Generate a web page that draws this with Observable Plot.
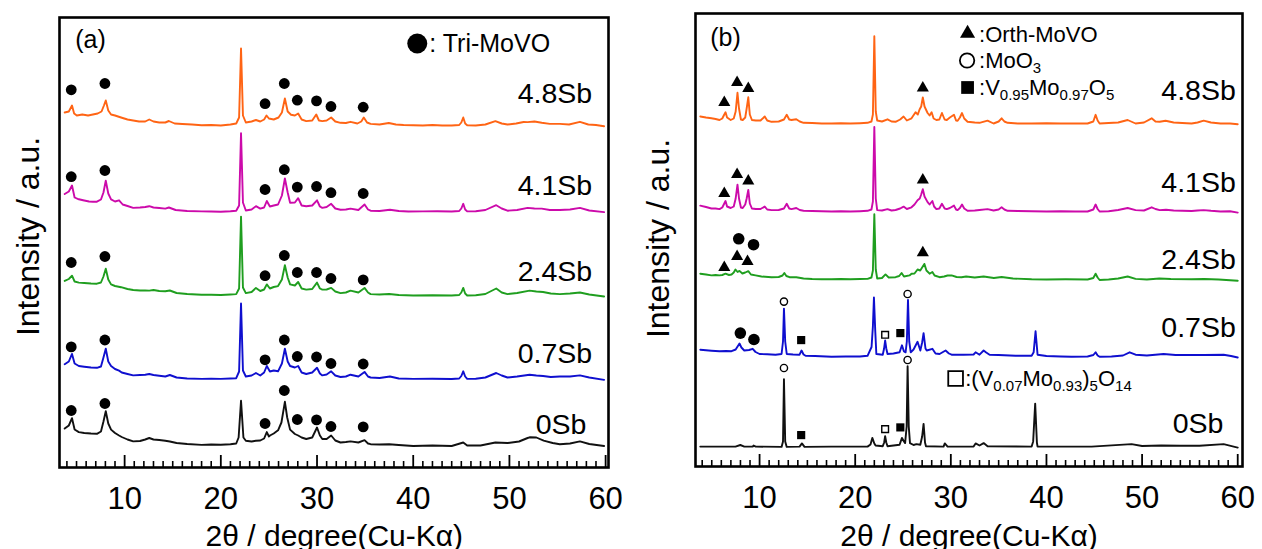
<!DOCTYPE html>
<html><head><meta charset="utf-8">
<script src="https://cdn.jsdelivr.net/npm/d3@7"></script>
<script src="https://cdn.jsdelivr.net/npm/@observablehq/plot@0.6"></script>
<style>
body{margin:0;background:#fff;}
#wrap{display:flex;width:1262px;height:549px;}
#wrap > div{width:631px;height:549px;}
svg{display:block;}
</style></head><body><div id="wrap"><div id="pa"></div><div id="pb"></div></div>
<script>
// ---------- labels ----------
const sampleNames = ["4.8Sb", "4.1Sb", "2.4Sb", "0.7Sb", "0Sb"];
const seriesColors = ["#ff6414", "#cc0aaa", "#1f9e1f", "#0f0fcf", "#111111"];
const xTitle = "2θ / degree(Cu-Kα)";
const yTitle = "Intensity / a.u.";
const majorTicks = [10, 20, 30, 40, 50, 60];

// ---------- panel (a) : [2theta, intensity (stacked, a.u.)] ----------
const a_48Sb = [[3.77,355],[4.2,356],[4.53,362],[4.75,354],[5.03,352],[5.6,353],[6.2,352],[6.7,353],[7.2,354],[7.6,356],[7.85,362],[8.04,367],[8.3,357],[8.59,353],[9.0,352],[9.63,350],[10.3,348],[10.89,347],[11.5,346],[12.14,346],[12.56,348],[13.0,346],[13.6,345],[14.23,345],[14.6,346.5],[15.2,344],[16.0,343.5],[17.0,343],[18.0,342.3],[19.0,342.5],[20.0,342],[21.0,343],[21.6,344],[21.9,350],[22.1,419],[22.3,352],[22.6,345],[23.2,346],[23.65,347.5],[24.1,346],[24.5,348],[24.75,352],[25.0,349],[25.5,348],[26.0,350],[26.35,355],[26.66,369],[26.95,356],[27.3,352.7],[27.7,352],[28.04,354],[28.4,348],[28.88,346.4],[29.5,347],[29.92,353],[30.2,347],[30.55,346.4],[31.0,347],[31.47,350],[31.9,346],[32.44,344.7],[33.0,344.5],[33.48,345.7],[34.2,344],[34.6,346],[34.86,350],[35.2,345],[35.57,343.6],[36.5,343],[37.46,344.5],[38.2,343],[39.0,342.5],[40,342.3],[41,342],[42,342.5],[43,342],[44,342],[44.78,342.5],[45.0,345],[45.2,350],[45.4,344],[45.61,342.3],[46.5,342],[47.5,343],[48.54,346.4],[49.2,344],[49.8,343],[50.7,344],[51.47,345.5],[51.89,345.4],[52.6,346],[53.36,344.7],[54.2,343.6],[55.24,343.6],[56.2,343],[57.33,345.7],[58.2,343],[59.0,342.5],[59.84,341.2]];
const a_41Sb = [[3.77,273.5],[4.2,276],[4.53,282],[4.8,270],[5.24,268.2],[5.8,267],[6.3,266],[6.7,265.8],[7.12,265.8],[7.54,268],[7.8,275],[8.04,286.7],[8.3,274],[8.59,268.2],[9.0,266],[9.42,267.2],[9.8,263],[10.3,261.5],[10.89,259.6],[11.6,260],[12.14,260.5],[12.56,261.3],[13.0,260],[13.6,259.5],[14.23,258.9],[14.6,260],[15.3,257.5],[16.5,256.5],[18.0,256.1],[19.0,256],[20.0,255.8],[21.0,256.3],[21.6,256.8],[21.9,262],[22.1,334.3],[22.3,265],[22.6,257],[23.2,258],[23.65,261.3],[24.1,258.9],[24.5,260],[24.78,266.5],[25.1,261],[25.5,262],[25.95,263],[26.35,272],[26.66,289],[26.95,275],[27.2,264.8],[27.7,265],[28.04,269.3],[28.4,262],[28.88,261.3],[29.5,262],[30.0,267.2],[30.3,261],[30.55,259.6],[31.0,260.5],[31.47,263.7],[31.9,259],[32.44,257.8],[33.0,258],[33.48,258.9],[34.3,257.5],[34.94,263],[35.3,258],[35.57,256.8],[36.5,256.5],[37.58,257.8],[38.5,256.5],[39.5,256],[41,256.1],[42.5,256.3],[44,256],[44.78,256.5],[45.0,259],[45.2,263.7],[45.4,258],[45.61,256.1],[46.5,256.3],[47.5,257.5],[48.63,262.3],[49.2,259],[49.8,256.8],[50.8,257.5],[51.89,259.6],[52.6,259],[53.36,258.9],[54.2,257.5],[55.24,257.5],[56.3,258],[57.33,259.6],[58.3,257],[59.84,255.4]];
const a_24Sb = [[3.77,186.6],[4.2,188.5],[4.53,191.8],[4.8,186],[5.24,184.9],[5.8,184.5],[6.5,184],[7.12,183.8],[7.54,185],[7.8,191],[8.04,198.8],[8.3,188],[8.59,183.1],[9.0,181.5],[9.63,180.3],[10.3,178.5],[10.89,177.5],[11.6,177],[12.14,177],[12.56,176.9],[13.0,177.5],[13.6,176.5],[14.23,176.2],[14.7,177],[15.4,174.5],[16.5,173.5],[18.0,172.7],[19.0,172.8],[20.0,172.5],[21.0,173],[21.6,173.4],[21.9,179],[22.1,250.9],[22.3,180],[22.6,174.4],[23.2,175.5],[23.65,179.6],[24.1,176.5],[24.5,178],[24.78,183.1],[25.1,179],[25.5,180.5],[25.95,181.4],[26.35,188],[26.66,202.2],[26.95,190],[27.2,183.1],[27.7,182],[28.04,185.5],[28.4,179],[28.88,177.9],[29.5,178.5],[30.0,184.9],[30.3,179],[30.55,177.9],[31.0,178],[31.47,179.6],[31.9,176],[32.44,174.4],[33.0,175],[33.48,176.9],[34.3,175],[34.94,179.6],[35.3,175],[35.57,173.4],[36.5,173],[37.5,173.5],[38.5,172.5],[40,172],[42,172.3],[44,172],[44.78,172.5],[45.0,175],[45.2,179.6],[45.4,174],[45.61,172],[46.5,172.3],[47.5,173.5],[48.63,179],[49.2,175],[49.8,173.4],[50.8,174.5],[52.1,176.9],[52.8,176],[53.5,175.5],[54.3,174],[55.24,173.4],[56.3,174],[57.33,175],[58.3,173],[59.84,171]];
const a_07Sb = [[3.77,103.2],[4.2,106],[4.53,113.6],[4.8,104],[5.24,101.5],[5.8,100.8],[6.5,100],[7.12,99.7],[7.54,101],[7.8,110],[8.04,118.8],[8.3,106],[8.59,101.5],[9.0,98.5],[9.42,96.9],[9.7,95],[10.3,93.5],[10.89,92.1],[11.6,92.5],[12.14,92.8],[12.56,93.5],[13.0,92.5],[13.6,91.8],[14.23,91],[14.7,92.5],[15.4,90],[16.5,89],[18.0,88.6],[19.0,88.8],[20.0,88.6],[21.0,89],[21.6,89.3],[21.9,96],[22.1,164],[22.3,97],[22.6,91],[23.2,92],[23.65,94.5],[24.1,92],[24.5,95],[24.78,101.5],[25.1,96],[25.5,97],[25.95,96.2],[26.35,104],[26.66,118.8],[26.95,106],[27.2,101.5],[27.7,100],[28.04,101.5],[28.4,95],[28.88,93.5],[29.5,95],[30.0,99.7],[30.3,94],[30.55,92.1],[31.0,93],[31.47,96.2],[31.9,92],[32.44,90.5],[33.0,91],[33.48,92.8],[34.3,91],[34.94,95.6],[35.3,91],[35.57,90],[36.5,89.5],[37.58,91],[38.5,89],[40,88.6],[42,88.8],[44,88.5],[44.78,89],[45.0,91.5],[45.2,96.2],[45.4,91],[45.61,88.6],[46.5,88.8],[47.5,90],[48.63,94.5],[49.2,92],[49.8,90],[50.8,91],[52.1,92.8],[52.8,92],[53.5,91.5],[54.3,90.5],[55.24,91],[56.3,91],[57.33,92.1],[58.3,90],[59.84,87.6]];
const a_0Sb = [[3.77,38.9],[4.2,42],[4.53,49.3],[4.8,38],[5.24,35.4],[5.8,34.5],[6.5,34],[7.12,33.7],[7.54,36],[7.8,46],[8.04,56.3],[8.3,44],[8.59,37.9],[9.0,34.5],[9.42,32],[9.7,30.5],[10.3,28],[10.89,26.1],[11.6,26.5],[12.14,28],[12.56,29.5],[13.0,28],[13.6,27.5],[14.23,26.8],[14.7,26],[15.4,24.5],[16.5,23.5],[18.0,22.6],[19.0,23],[20.0,22.8],[21.0,23.3],[21.6,24],[21.85,30],[22.1,66.7],[22.35,30],[22.6,26.8],[23.2,26],[23.65,26.8],[24.1,27],[24.5,29],[24.78,35.4],[25.0,31],[25.11,32],[25.5,34],[25.95,37.2],[26.3,45],[26.66,65.7],[26.9,50],[27.2,37.9],[27.7,33.5],[28.04,32],[28.4,30],[28.88,28.5],[29.5,30],[30.0,40],[30.3,32],[30.55,28.5],[31.0,28.5],[31.47,32],[31.9,27],[32.44,25],[33.0,25.5],[33.48,26.1],[34.3,25],[34.94,27.4],[35.3,24],[35.57,23.3],[36.5,23],[37.5,23.3],[38.5,22.5],[40,21.5],[42,22],[44,21.5],[45.2,25],[45.61,22],[47,22],[48.54,25],[49.8,24.5],[51.0,26],[51.89,29.5],[52.1,30.2],[52.8,30],[53.56,26.8],[54.5,24.5],[55.24,23.3],[56.3,24],[57.33,26.1],[58.3,23.5],[59.84,21.5]];

// Tri-MoVO marker positions (a)
const triMoVO_x = [4.45, 7.95, 24.6, 26.6, 27.95, 29.95, 31.45, 34.8];
const triMoVO_y = [
  [377.7, 384, 363.8, 384, 367.3, 366.6, 361, 360.3],
  [290.8, 297, 278, 297.8, 280.4, 281, 274.8, 274],
  [205, 211, 191.8, 212, 195, 195, 189, 187.6],
  [120.6, 127.5, 107.7, 127.5, 111, 110.5, 104, 103.5],
  [57, 64, 44, 77, 48, 47.6, 41, 40.6]
];
const labelA_x = [58.6, 58.6, 58.6, 58.6, 58.0];
const labelA_y = [373.5, 282, 195.5, 114, 42.4];

// ---------- panel (b) ----------
const b_48Sb = [[3.8,350],[4.4,349],[4.97,348.2],[5.4,347.5],[5.81,346.5],[6.1,348],[6.31,352],[6.44,354.2],[6.6,349],[6.98,346.5],[7.3,348],[7.5,355],[7.69,373.7],[7.85,358],[8.05,347],[8.24,346.5],[8.5,349],[8.65,358],[8.82,369.2],[8.98,352],[9.2,346.5],[9.6,346],[10.1,346],[10.54,350],[10.8,346],[11.25,344.7],[12.0,345],[12.55,347],[12.84,351.7],[13.1,347],[13.34,346.5],[13.84,347.2],[14.2,345],[14.6,343.7],[15.5,343.5],[16.5,343],[17.53,343],[18.5,343.3],[19.5,343],[20.5,343.3],[21.29,343.7],[21.7,345],[21.85,352],[22.0,430.3],[22.15,355],[22.3,346],[22.8,345],[23.38,347.2],[23.8,345],[24.22,344.7],[24.7,347],[25.06,350],[25.4,346],[25.89,348.2],[26.31,354.2],[26.55,352],[26.73,357],[26.9,360],[27.07,369],[27.25,360],[27.57,353.5],[27.78,351],[27.99,354.2],[28.2,348],[28.49,346.5],[28.8,347],[29.07,353.5],[29.35,347],[29.58,346.5],[29.9,349],[30.33,351.7],[30.55,346],[30.71,345.8],[30.95,349],[31.17,353.5],[31.4,348],[31.75,344.7],[32.5,344],[33.0,343.7],[33.84,345.8],[34.47,343],[35.0,345],[35.31,348.2],[35.6,345],[35.94,343.7],[37,343],[38.45,343],[40,343.3],[41.5,343],[43,343],[44.3,343],[44.9,345],[45.14,351.7],[45.35,346],[45.56,343],[46.5,343.5],[47.5,344],[48.49,346.5],[49.32,343],[50.2,344],[51.0,348.2],[51.4,345],[51.84,344.7],[52.46,345.8],[53.3,344],[54.2,343.5],[55.18,343],[55.8,344],[56.44,345.8],[57.2,344],[58.2,343],[59.2,343],[60.0,342.3]];
const b_41Sb = [[3.8,260.9],[4.4,259.5],[4.97,258],[5.4,258],[5.81,257.4],[6.1,259],[6.31,263],[6.44,265.5],[6.6,260],[6.98,258.5],[7.3,260],[7.5,268],[7.69,281.9],[7.85,268],[8.05,259],[8.24,258.5],[8.5,262],[8.65,268],[8.82,276.6],[8.98,263],[9.2,258],[9.6,257.5],[10.1,257.5],[10.54,259.9],[10.8,257],[11.25,256.4],[12.0,256.5],[12.55,258],[12.84,262.7],[13.1,258],[13.34,257.4],[13.84,258.5],[14.2,256.5],[14.6,255.7],[15.5,255.5],[16.5,255.2],[17.53,255],[18.5,255.3],[19.5,255],[20.5,255.3],[21.29,255.7],[21.7,257],[21.85,265],[22.0,339.5],[22.15,268],[22.3,256.4],[22.8,256],[23.38,257.4],[23.8,256],[24.22,256.5],[24.7,258],[25.06,259.9],[25.4,257.5],[25.89,259.2],[26.2,262],[26.52,266.2],[26.75,268],[26.9,272],[27.07,277.3],[27.25,270],[27.57,264.4],[27.78,262],[28.07,265.5],[28.25,260],[28.49,257.4],[28.8,258],[29.07,262.7],[29.35,258],[29.58,257.4],[29.9,258.5],[30.33,260.9],[30.55,257],[30.71,256.4],[30.95,258.5],[31.17,262],[31.4,258],[31.75,255.7],[32.5,256],[33.0,256.5],[33.84,257.4],[34.47,256],[35.0,257],[35.31,259.2],[35.6,257],[35.94,255.7],[37,255.5],[38.45,255.3],[40,255],[41.5,255.2],[43,255],[44.3,255],[44.9,257],[45.14,262],[45.35,257.5],[45.56,255],[46.5,255.3],[47.5,256.5],[48.49,258.5],[49.32,256.4],[50.2,256],[51.0,259.2],[51.4,257.5],[51.84,256.4],[52.5,256.8],[53.3,256],[54.2,255.7],[55.18,255.5],[55.8,256],[56.44,256.4],[57.2,255.7],[58.2,255],[59.2,255.3],[60.0,253.9]];
const b_24Sb = [[3.8,192.8],[4.4,192],[4.97,191.1],[5.4,191.5],[5.81,191.1],[6.1,191.5],[6.44,192.8],[6.8,191.5],[7.07,192],[7.3,194],[7.48,197],[7.7,194.5],[7.9,195.6],[8.2,193],[8.5,194],[8.82,195.3],[9.1,192],[9.58,191.1],[10.2,190],[11.25,189.3],[12.0,189.5],[12.4,191],[12.59,193.5],[12.8,190.5],[13.13,189.3],[13.84,189.3],[14.3,188.5],[14.6,188],[15.5,187.5],[16.5,187.3],[17.53,187.2],[18.5,187.5],[19.5,187.3],[20.5,187.5],[21.29,187.6],[21.7,189],[21.85,196],[22.0,252.2],[22.15,197],[22.3,188],[22.8,188.5],[23.17,192.1],[23.5,189],[24.22,189.3],[24.6,190.5],[24.85,193.5],[25.1,190],[25.68,191.1],[25.89,192.8],[26.2,193],[26.52,197],[26.8,196],[27.0,199],[27.23,202.6],[27.45,196],[27.78,192.8],[28.07,194.5],[28.3,191],[28.82,189.3],[29.3,190],[29.66,191],[30.08,191.1],[30.6,189.5],[31.12,189.3],[31.6,190],[32.5,189],[33.43,190],[34.5,188.5],[35.31,189.5],[36.5,188],[38.45,187.2],[40,187],[42,187.2],[44.3,187],[44.9,188.5],[45.14,192.8],[45.35,189],[45.56,186.5],[46.5,187],[47.5,188],[48.49,190],[49.32,187.6],[50.5,187],[51.8,188],[53,187.5],[55.18,187.2],[56.5,187.5],[58,187],[60.0,185.8]];
const b_07Sb = [[3.8,116.7],[4.4,116.2],[4.97,115.8],[5.81,115.3],[6.5,115.5],[7.07,115.3],[7.5,117],[7.9,123],[8.1,119],[8.4,116],[8.9,116.5],[9.28,117.7],[9.58,114.5],[10.0,112.5],[10.8,112.2],[11.67,111.8],[12.3,112.5],[12.45,125],[12.55,157.9],[12.68,125],[12.84,112.5],[13.5,112],[14.18,111.8],[14.39,116],[14.6,112],[14.81,110.7],[15.8,110.5],[17.53,109.7],[19,110],[20.5,110],[21.29,110.7],[21.71,119.5],[21.85,140],[21.96,169],[22.1,135],[22.21,112.5],[22.88,111.8],[23.02,118],[23.13,126],[23.25,118],[23.38,112.5],[24.0,113],[24.64,114.2],[24.89,121.2],[25.1,115],[25.27,114.2],[25.4,125],[25.52,166.6],[25.65,125],[25.81,114.2],[26.1,117],[26.52,124.7],[26.81,116],[27.0,124],[27.15,133.4],[27.35,118],[27.48,116],[28.07,117.7],[28.4,113],[28.82,112.5],[29.45,116],[29.8,113],[30.08,111.8],[31.33,111.8],[32.38,112],[32.59,114.2],[33.0,111.8],[33.43,116],[33.7,114],[34.05,111.8],[35,111.5],[36.77,110.7],[38.45,110.7],[38.66,114.2],[38.86,135.2],[39.07,111.8],[40,110.5],[41.5,110],[42.63,109.7],[44.3,110],[44.9,111.5],[45.14,114.2],[45.35,111],[45.56,109.7],[46.8,110],[48.0,111],[48.7,114.2],[49.32,111.8],[50.5,111],[52.25,112.5],[53.5,111.5],[55,111.5],[56.5,111.5],[58.53,111.8],[59.3,110.5],[60.0,109]];
const b_0Sb = [[3.8,19.9],[5.5,19.9],[7.48,19.9],[7.99,21.5],[8.4,19.9],[9.28,19.9],[9.37,21],[9.6,19.9],[12.3,19.6],[12.45,25],[12.55,87.3],[12.68,25],[12.84,19.6],[14.18,19.9],[14.43,23.1],[14.7,19.6],[17.5,19.9],[21.29,19.9],[21.6,22],[21.79,28.6],[22.0,23],[22.13,21],[22.88,20.3],[23.03,24],[23.13,30.4],[23.25,24],[23.38,20.3],[24.64,21.7],[24.89,28.6],[25.1,25],[25.22,23.4],[25.38,40],[25.48,100.2],[25.6,40],[25.73,23.4],[26.1,21.5],[26.4,22.4],[26.81,21.7],[27.0,30],[27.15,42.6],[27.3,24],[27.4,20.3],[29.24,19.9],[29.37,23.1],[29.66,19.9],[32.38,19.9],[32.59,23.1],[33.0,21],[33.43,23.4],[33.84,20.3],[38.45,19.9],[38.61,25.1],[38.82,62.9],[39.0,24],[39.07,19.9],[44.72,19.9],[48.9,22.4],[50,20.5],[52,21],[54,20.8],[56,20.8],[58.53,22.4],[60.0,18.9]];

// phase markers (b)
const orthMoVO = [[6.31,364],[7.65,383.9],[8.82,377.9],[27.07,378.6],[6.31,273],[7.65,292],[8.82,285.4],[27.07,286.4],[6.31,199],[7.65,210],[8.74,205],[27.07,213.8]];
const triMoVO_b = [[7.82,227.7],[9.37,221.8],[7.99,133.4],[9.41,127]];
const moO3 = [[12.55,164.9],[25.48,172.5],[12.55,98.5],[25.48,106.5]];
const v095 = [[14.35,126.4],[24.72,133.4],[14.35,31.4],[24.72,39.1]];
const v007 = [[23.13,131.7],[23.13,37.4]];
const labelB_x = [59.8, 59.8, 59.8, 59.8, 58.5];
const labelB_y = [376, 283.6, 206.8, 138.7, 42.6];

// legend texts
const legendA = ": Tri-MoVO";
const legendB = [":Orth-MoVO", ":MoO_{3}", ":V_{0.95}Mo_{0.97}O_{5}"];
const legendB2 = ":(V_{0.07}Mo_{0.93})_{5}O_{14}";

const FONT = "'Liberation Sans', Arial, Helvetica, sans-serif";

function commonMarks(cfg, H) {
  const minor = d3.range(Math.ceil(cfg.xd[0]), 61).filter(d => d % 10 !== 0);
  return [
    Plot.ruleX(minor, {x: d => d, y1: 0, y2: 6, stroke: "black", strokeWidth: 1.6}),
    Plot.ruleX(majorTicks, {x: d => d, y1: 0, y2: 12, stroke: "black", strokeWidth: 1.8}),
    Plot.frame({stroke: "black", strokeWidth: 2.6}),
    Plot.axisX({ticks: majorTicks, tickSize: 0, tickPadding: 19, fontSize: 31, label: null, tickFormat: d => String(d), fill: "black"}),
    Plot.text([xTitle], {x: cfg.xTitleX, y: cfg.xTitleY, text: d => d, fontSize: 30, textAnchor: "middle", lineAnchor: "bottom", fill: "black"}),
    Plot.text([yTitle], {x: cfg.yTitleX, y: cfg.yTitleY, text: d => d, fontSize: 32, rotate: -90, textAnchor: "middle", lineAnchor: "middle", fill: "black"})
  ];
}

function curveMarks(series) {
  return series.map((s, i) => Plot.line(s, {x: d => d[0], y: d => d[1], stroke: seriesColors[i], strokeWidth: 1.9, strokeLinejoin: "round"}));
}

function sampleLabels(xs, ys) {
  const rows = sampleNames.map((n, i) => ({n, x: xs[i], y: ys[i]}));
  return Plot.text(rows, {x: "x", y: "y", text: "n", fontSize: 28.5, textAnchor: "end", lineAnchor: "middle", fill: "black"});
}

function build(cfg, marks) {
  const H = 549 - cfg.mt - cfg.mb;
  return Plot.plot({
    width: 631, height: 549,
    marginLeft: cfg.ml, marginRight: cfg.mr, marginTop: cfg.mt, marginBottom: cfg.mb,
    x: {domain: cfg.xd},
    y: {domain: [0, H], axis: null},
    style: {fontFamily: FONT, background: "white", color: "black", overflow: "visible"},
    marks: [...marks, ...commonMarks(cfg, H)]
  });
}

// ---- panel a
const cfgA = {ml: 59, mr: 23, mt: 17, mb: 82, xd: [3.23, 60.3], xTitleX: 31.8, xTitleY: -78, yTitleX: 0.0, yTitleY: 231};
const dotsA = [];
triMoVO_y.forEach(row => row.forEach((v, j) => dotsA.push({x: triMoVO_x[j], y: v})));
const plotA = build(cfgA, [
  ...curveMarks([a_48Sb, a_41Sb, a_24Sb, a_07Sb, a_0Sb]),
  Plot.dot(dotsA, {x: "x", y: "y", r: 5.4, fill: "black", stroke: "none"}),
  sampleLabels(labelA_x, labelA_y),
  Plot.text(["(a)"], {x: 6.46, y: 428, text: d => d, fontSize: 25, textAnchor: "middle", lineAnchor: "middle", fill: "black"}),
  Plot.dot([[40.42, 424]], {x: d => d[0], y: d => d[1], r: 10, fill: "black"}),
  Plot.text([legendA], {x: 41.67, y: 424, text: d => d, fontSize: 25, textAnchor: "start", lineAnchor: "middle", fill: "black"})
]);

// ---- panel b
const cfgB = {ml: 64, mr: 20, mt: 13, mb: 83, xd: [3.3, 60.5], xTitleX: 31.9, xTitleY: -79, yTitleX: -0.55, yTitleY: 228};
const plotB = build(cfgB, [
  ...curveMarks([b_48Sb, b_41Sb, b_24Sb, b_07Sb, b_0Sb]),
  Plot.dot(orthMoVO, {x: d => d[0], y: d => d[1], symbol: "triangle", r: 4.5, fill: "black", stroke: "none"}),
  Plot.dot(triMoVO_b, {x: d => d[0], y: d => d[1], r: 5.8, fill: "black", stroke: "none"}),
  Plot.dot(moO3, {x: d => d[0], y: d => d[1], r: 3.6, fill: "white", stroke: "black", strokeWidth: 1.4}),
  Plot.dot(v095, {x: d => d[0], y: d => d[1], symbol: "square", r: 4.6, fill: "black", stroke: "none"}),
  Plot.dot(v007, {x: d => d[0], y: d => d[1], symbol: "square", r: 3.8, fill: "white", stroke: "black", strokeWidth: 1.4}),
  sampleLabels(labelB_x, labelB_y),
  Plot.text(["(b)"], {x: 6.44, y: 429, text: d => d, fontSize: 25, textAnchor: "middle", lineAnchor: "middle", fill: "black"}),
  // legend symbols
  Plot.dot([[31.75, 433]], {x: d => d[0], y: d => d[1], symbol: "triangle", r: 5.6, fill: "black"}),
  Plot.dot([[31.7, 406]], {x: d => d[0], y: d => d[1], r: 7.2, fill: "white", stroke: "black", strokeWidth: 1.8}),
  Plot.dot([[31.75, 379]], {x: d => d[0], y: d => d[1], symbol: "square", r: 7.2, fill: "black"}),
  Plot.dot([[30.5, 88]], {x: d => d[0], y: d => d[1], symbol: "square", r: 8.3, fill: "white", stroke: "black", strokeWidth: 1.8}),
  Plot.text(legendB.map((t, i) => ({t, y: [432, 406, 379][i]})), {x: 32.95, y: "y", text: "t", fontSize: 22, textAnchor: "start", lineAnchor: "middle", fill: "black"}),
  Plot.text([legendB2], {x: 31.5, y: 88, text: d => d, fontSize: 22, textAnchor: "start", lineAnchor: "middle", fill: "black"})
]);

document.getElementById("pa").appendChild(plotA);
document.getElementById("pb").appendChild(plotB);

// rich text: turn _{...} into subscripts
function applySubscripts(svg) {
  svg.querySelectorAll("text").forEach(t => {
    const s = t.textContent;
    if (!s.includes("_{")) return;
    const fs = parseFloat(getComputedStyle(t).fontSize) || 22;
    const parts = s.split(/(_\{[^}]*\})/).filter(p => p);
    while (t.firstChild) t.removeChild(t.firstChild);
    let down = false;
    const ns = "http://www.w3.org/2000/svg";
    parts.forEach(p => {
      const ts = document.createElementNS(ns, "tspan");
      if (p.startsWith("_{")) {
        ts.textContent = p.slice(2, -1);
        ts.setAttribute("font-size", (fs * 0.68).toFixed(1) + "px");
        if (!down) ts.setAttribute("dy", (fs * 0.26).toFixed(1) + "px");
        down = true;
      } else {
        ts.textContent = p;
        if (down) ts.setAttribute("dy", (-fs * 0.26).toFixed(1) + "px");
        down = false;
      }
      t.appendChild(ts);
    });
  });
}
applySubscripts(plotA);
applySubscripts(plotB);
</script></body></html>
